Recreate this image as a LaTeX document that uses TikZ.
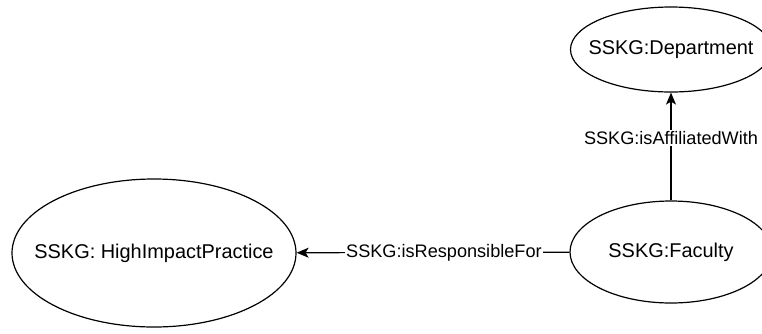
\documentclass[tikz,border=0pt]{standalone}
\usepackage{fontspec}
\setmainfont{Liberation Sans}
\usetikzlibrary{shapes.geometric,arrows.meta}
\newcommand{\concept}[5]{%
 \node[concept, minimum width={#4}, minimum height={#5}] ({#1}) at ({#2}) {#3};%
}

\begin{document}
\begin{tikzpicture}[x=1bp,y=-1bp,
  concept/.style={ellipse, draw, line width=1.2bp, inner xsep=-40bp, inner ysep=0pt, font=\fontsize{20}{24}\selectfont},
  relation/.style={draw, line width=1.2bp, -{Stealth[length=12bp,width=10bp,inset=3bp]}},
  rellabel/.style={fill=white, inner sep=1bp, font=\fontsize{18.2}{22}\selectfont}]
  \useasboundingbox (0,0) rectangle (762,333);
  \concept{dept}{671,49.5}{SSKG:Department}{201bp}{85bp};
  \concept{fac}{671,252}{SSKG:Faculty}{202bp}{102bp};
  \concept{hip}{154,253}{SSKG: HighImpactPractice}{284bp}{148bp};
  \draw[relation] (fac) -- node[rellabel, pos=0.58] {SSKG:isAffiliatedWith} (dept);
  \draw[relation] (fac) -- node[rellabel, pos=0.46] {SSKG:isResponsibleFor} (hip);
\end{tikzpicture}
\end{document}
